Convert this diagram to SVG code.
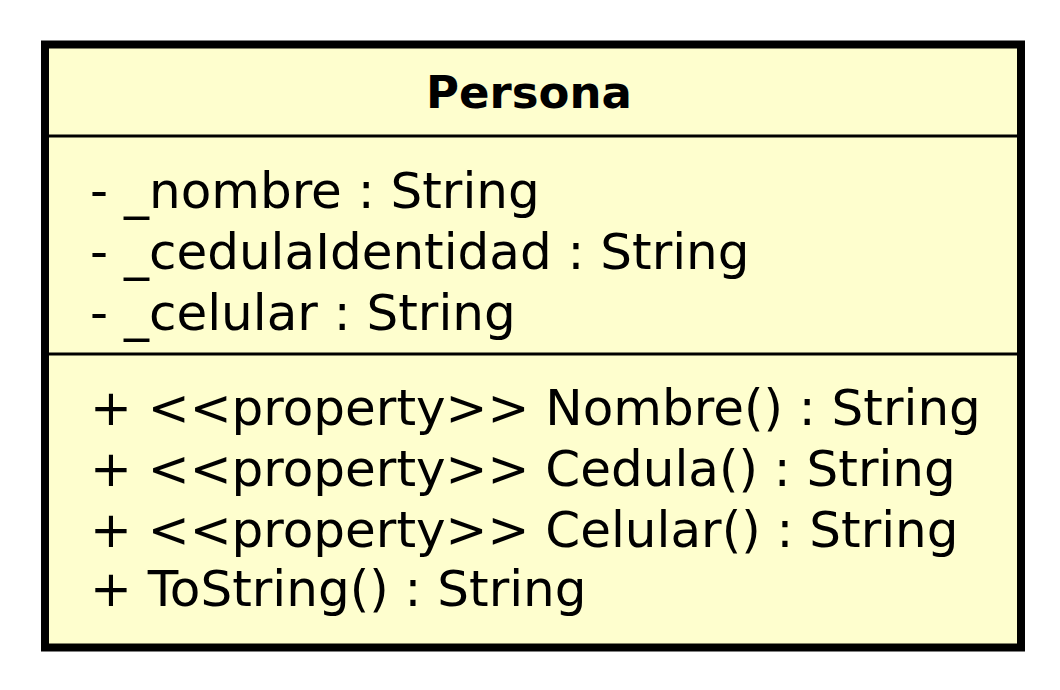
<svg xmlns="http://www.w3.org/2000/svg" width="1060" height="690" viewBox="0 0 1060 690">
<style>
.box{fill:#FEFECE;stroke:#000;stroke-width:8}
.sep{stroke:#000;stroke-width:3}
.t{font-family:"DejaVu Sans",sans-serif;font-size:50px;fill:#000}
.h{font-family:"DejaVu Sans",sans-serif;font-size:45px;font-weight:bold;fill:#000}
</style>
<rect width="1060" height="690" fill="#fff"/>
<g id="Persona">
<rect class="box" x="45" y="44.5" width="976" height="603"/>
<line class="sep" x1="45" y1="136" x2="1021" y2="136"/>
<line class="sep" x1="45" y1="354" x2="1021" y2="354"/>
<text class="h" x="529" y="108" text-anchor="middle">Persona</text>
<text class="t" x="90" y="208">- _nombre : String</text>
<text class="t" x="90" y="269">- _cedulaIdentidad : String</text>
<text class="t" x="90" y="330">- _celular : String</text>
<text class="t" x="90" y="425">+ &lt;&lt;property&gt;&gt; Nombre() : String</text>
<text class="t" x="90" y="486">+ &lt;&lt;property&gt;&gt; Cedula() : String</text>
<text class="t" x="90" y="547">+ &lt;&lt;property&gt;&gt; Celular() : String</text>
<text class="t" x="90" y="606">+ ToString() : String</text>
</g>
</svg>
